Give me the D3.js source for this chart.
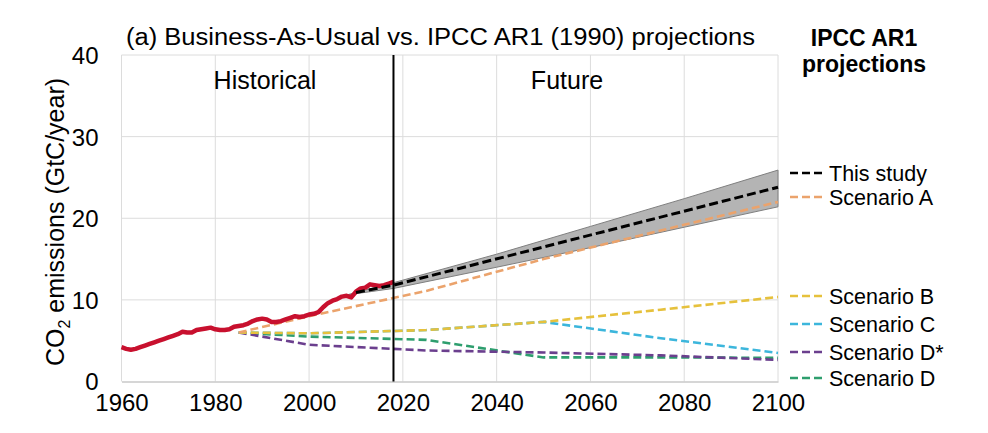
<!DOCTYPE html>
<html>
<head>
<meta charset="utf-8">
<script src="https://cdn.jsdelivr.net/npm/d3@7"></script>
<style>
  body { margin: 0; background: #fff; }
  text { font-family: "Liberation Sans", Arial, sans-serif; fill: #000; }
</style>
</head>
<body>
<div class="canvas"></div>
<script>
// historical emissions (GtC/year)
const histYears = d3.range(1960, 2019);
const histValues = [
  4.2, 4.0, 3.9, 4.0, 4.2, 4.4, 4.6, 4.8, 5.0, 5.2,
  5.4, 5.6, 5.8, 6.1, 6.0, 6.0, 6.3, 6.4, 6.5, 6.6,
  6.4, 6.3, 6.3, 6.4, 6.7, 6.8, 6.9, 7.1, 7.4, 7.6,
  7.7, 7.6, 7.3, 7.3, 7.4, 7.6, 7.8, 8.0, 7.9, 8.0,
  8.2, 8.3, 8.5, 9.1, 9.6, 9.9, 10.1, 10.4, 10.5, 10.3,
  11.0, 11.4, 11.5, 11.9, 11.8, 11.7, 11.8, 12.0, 12.2
];

// this study: central projection and uncertainty band
const studyYears = [2010, 2018, 2100];
const studyValues = [10.9, 11.8, 23.8];
const bandYears = [2008, 2018, 2040, 2060, 2080, 2100];
const bandLower = [10.6, 11.4, 14.0, 16.4, 18.9, 21.4];
const bandUpper = [10.6, 12.1, 15.6, 19.0, 22.4, 25.9];

// IPCC AR1 scenarios
const scenYears = [1985, 2000, 2025, 2050, 2075, 2100];
const scenA = [6.0, 8.0, 11.1, 15.0, 18.5, 22.0];
const scenB = [6.0, 5.9, 6.3, 7.3, 8.8, 10.35];
const scenC = [6.0, 5.9, 6.3, 7.3, 5.3, 3.5];
const scenDstar = [6.0, 4.5, 3.8, 3.55, 3.2, 2.65];
const scenD = [6.0, 5.5, 5.1, 2.95, 2.95, 2.9];

const legendNames = ["This study", "Scenario A", "Scenario B", "Scenario C", "Scenario D*", "Scenario D"];
const xTicks = [1960, 1980, 2000, 2020, 2040, 2060, 2080, 2100];
const yTicks = [0, 10, 20, 30, 40];
const splitYear = 2018;

const width = 988;
const height = 433;

const svg = d3
  .select(".canvas")
  .append("svg")
  .attr("width", width)
  .attr("height", height);

const xScale = d3.scaleLinear().domain([1960, 2100]).range([121.5, 778]);
const yScale = d3.scaleLinear().domain([0, 40]).range([381.5, 55]);

// grid
svg
  .append("g")
  .selectAll("line")
  .data(yTicks.filter((d) => d > 0))
  .enter()
  .append("line")
  .attr("x1", xScale(1960))
  .attr("x2", xScale(2100))
  .attr("y1", (d) => yScale(d))
  .attr("y2", (d) => yScale(d))
  .attr("stroke", "#dcdcdc")
  .attr("stroke-width", 1);

svg
  .append("g")
  .selectAll("line")
  .data(xTicks.filter((d) => d > 1960))
  .enter()
  .append("line")
  .attr("x1", (d) => xScale(d))
  .attr("x2", (d) => xScale(d))
  .attr("y1", yScale(0))
  .attr("y2", yScale(40))
  .attr("stroke", "#dcdcdc")
  .attr("stroke-width", 1);

// left border + bottom axis
svg
  .append("line")
  .attr("x1", xScale(1960))
  .attr("x2", xScale(1960))
  .attr("y1", yScale(0))
  .attr("y2", yScale(40))
  .attr("stroke", "#dcdcdc");

const xAxis = d3.axisBottom(xScale).tickValues(xTicks).tickSize(0).tickFormat(d3.format("d"));
const gx = svg
  .append("g")
  .attr("transform", `translate(0,${yScale(0)})`)
  .call(xAxis);
gx.select(".domain").attr("stroke", "#c8c8c8").attr("stroke-width", 1.5);
gx.selectAll("text").attr("font-size", 24).attr("dy", "1.1em");

const yAxis = d3.axisLeft(yScale).tickValues(yTicks).tickSize(0);
const gy = svg
  .append("g")
  .attr("transform", `translate(${xScale(1960)},0)`)
  .call(yAxis);
gy.select(".domain").remove();
gy.selectAll("text").attr("font-size", 24).attr("x", -23).attr("dy", "0.35em");

// uncertainty band
const band = bandYears.map((y, i) => ({ year: y, lo: bandLower[i], hi: bandUpper[i] }));
svg
  .append("path")
  .datum(band)
  .attr("fill", "#b4b4b4")
  .attr("stroke", "#7f7f7f")
  .attr("stroke-width", 1)
  .attr(
    "d",
    d3
      .area()
      .x((d) => xScale(d.year))
      .y0((d) => yScale(d.lo))
      .y1((d) => yScale(d.hi))
  );

const line = d3
  .line()
  .x((d) => xScale(d[0]))
  .y((d) => yScale(d[1]));

const scenarios = [
  { values: scenD, color: "#2e9e6e" },
  { values: scenDstar, color: "#6b3f8e" },
  { values: scenC, color: "#3cb6dc" },
  { values: scenB, color: "#e6c13c" },
  { values: scenA, color: "#eba36c" },
];

scenarios.forEach((s) => {
  svg
    .append("path")
    .datum(scenYears.map((y, i) => [y, s.values[i]]))
    .attr("fill", "none")
    .attr("stroke", s.color)
    .attr("stroke-width", 2.6)
    .attr("stroke-dasharray", "8,4")
    .attr("d", line);
});

// historical
svg
  .append("path")
  .datum(histYears.map((y, i) => [y, histValues[i]]))
  .attr("fill", "none")
  .attr("stroke", "#c8102e")
  .attr("stroke-width", 4.5)
  .attr("stroke-linejoin", "round")
  .attr("d", line);

// this study
svg
  .append("path")
  .datum(studyYears.map((y, i) => [y, studyValues[i]]))
  .attr("fill", "none")
  .attr("stroke", "#000")
  .attr("stroke-width", 3)
  .attr("stroke-dasharray", "9,4")
  .attr("d", line);

// historical / future split
svg
  .append("line")
  .attr("x1", xScale(splitYear))
  .attr("x2", xScale(splitYear))
  .attr("y1", yScale(0))
  .attr("y2", yScale(40))
  .attr("stroke", "#000")
  .attr("stroke-width", 2);

svg
  .append("text")
  .text("Historical")
  .attr("x", 265)
  .attr("y", 89)
  .attr("text-anchor", "middle")
  .attr("font-size", 25);

svg
  .append("text")
  .text("Future")
  .attr("x", 567)
  .attr("y", 89)
  .attr("text-anchor", "middle")
  .attr("font-size", 25);

// title
svg
  .append("text")
  .text("(a) Business-As-Usual vs. IPCC AR1 (1990) projections")
  .attr("x", 126)
  .attr("y", 45)
  .attr("font-size", 23)
  .attr("textLength", 629)
  .attr("lengthAdjust", "spacingAndGlyphs");

// y label
svg
  .append("text")
  .attr("transform", "translate(64,222) rotate(-90)")
  .attr("text-anchor", "middle")
  .attr("font-size", 25)
  .call((t) => {
    t.append("tspan").text("CO");
    t.append("tspan").text("2").attr("font-size", 16).attr("dy", 6);
    t.append("tspan").text(" emissions (GtC/year)").attr("dy", -6);
  });

// legend
svg
  .append("text")
  .text("IPCC AR1")
  .attr("x", 864)
  .attr("y", 46)
  .attr("text-anchor", "middle")
  .attr("font-size", 23)
  .attr("font-weight", "bold");
svg
  .append("text")
  .text("projections")
  .attr("x", 864)
  .attr("y", 72)
  .attr("text-anchor", "middle")
  .attr("font-size", 23)
  .attr("font-weight", "bold");

const legendColors = ["#000", "#eba36c", "#e6c13c", "#3cb6dc", "#6b3f8e", "#2e9e6e"];
const legendY = [173, 197, 296, 324, 352, 378];

const leg = svg
  .append("g")
  .selectAll("g")
  .data(legendNames)
  .enter()
  .append("g")
  .attr("transform", (d, i) => `translate(790,${legendY[i]})`);

leg
  .append("line")
  .attr("x1", 0)
  .attr("x2", 36)
  .attr("stroke", (d, i) => legendColors[i])
  .attr("stroke-width", 2.7)
  .attr("stroke-dasharray", "8,4");

leg
  .append("text")
  .text((d) => d)
  .attr("x", 39)
  .attr("y", 8)
  .attr("font-size", 21.5);
</script>
</body>
</html>
